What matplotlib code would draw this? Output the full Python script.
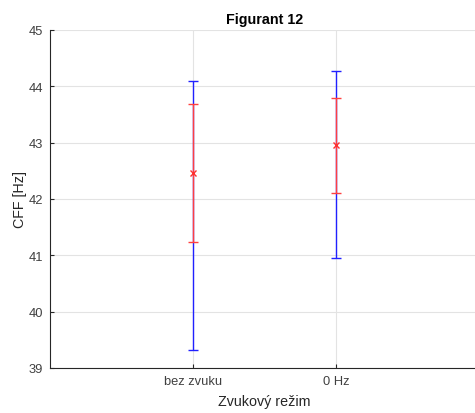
import numpy as np
import matplotlib.pyplot as plt

plt.rcParams['font.family'] = ['Liberation Sans', 'DejaVu Sans']

modes = ['bez zvuku', '0 Hz']
cff_mean = [42.46, 42.95]
cff_std = [1.22, 0.84]
cff_min = [39.32, 40.96]
cff_max = [44.09, 44.28]

x = np.arange(1, len(modes) + 1)
mean = np.array(cff_mean)
lo = mean - np.array(cff_min)
hi = np.array(cff_max) - mean

fig = plt.figure(figsize=(4.75, 4.14), dpi=100)
ax = fig.add_axes([50 / 475, 45 / 414, 429 / 475, 338 / 414])

# min-max range in blue, mean +- std in red
ax.errorbar(x, mean, yerr=[lo, hi], fmt='none', ecolor='#2020ff',
            elinewidth=1, capsize=3.5, capthick=1)
ax.errorbar(x, mean, yerr=cff_std, fmt='x', color='#ff3030', ecolor='#ff4040',
            elinewidth=1, capsize=3.5, capthick=1, markersize=5, mew=1)

ax.set_xlim(0, 3)
ax.set_ylim(39, 45)
ax.set_xticks(x)
ax.set_xticklabels(modes)
ax.set_yticks(np.arange(39, 46))

ax.grid(True, color='#e3e3e3', linewidth=0.8)
ax.set_axisbelow(True)
for side in ['top', 'right']:
    ax.spines[side].set_visible(False)
for side in ['left', 'bottom']:
    ax.spines[side].set_color('#262626')
    ax.spines[side].set_linewidth(0.8)
ax.tick_params(direction='in', length=3, width=0.8, colors='#262626',
               labelcolor='#404040', labelsize=9.3, pad=5)

ax.set_title('Figurant 12', fontsize=10.3, fontweight='bold', pad=5)
ax.set_xlabel('Zvukový režim', fontsize=10.3, color='#262626', labelpad=5)
ax.set_ylabel('CFF [Hz]', fontsize=10.3, color='#262626', labelpad=1)

fig.savefig('out.png', dpi=100)
